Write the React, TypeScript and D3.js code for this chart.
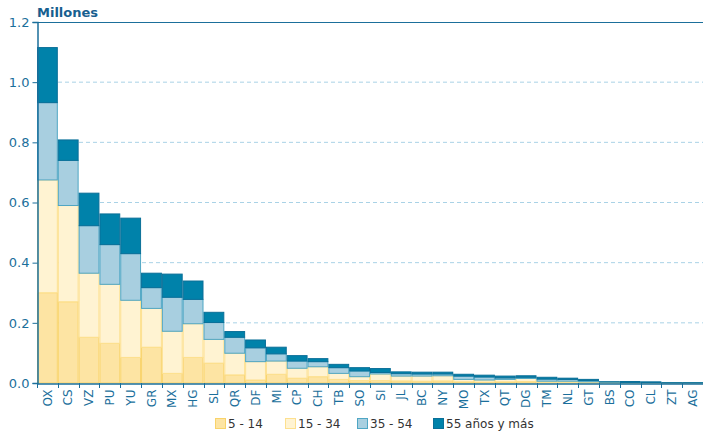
import React, { useEffect, useRef } from 'react';
import * as d3 from 'd3';

const states = ['OX', 'CS', 'VZ', 'PU', 'YU', 'GR', 'MX', 'HG', 'SL', 'QR', 'DF', 'MI', 'CP', 'CH', 'TB', 'SO',
    'SI', 'JL', 'BC', 'NY', 'MO', 'TX', 'QT', 'DG', 'TM', 'NL', 'GT', 'BS', 'CO', 'CL', 'ZT', 'AG'];

const age5to14 = [0.300, 0.270, 0.152, 0.132, 0.085, 0.119, 0.032, 0.085, 0.066, 0.027, 0.010, 0.029, 0.016, 0.021, 0.012, 0.008,
    0.008, 0.007, 0.006, 0.007, 0.004, 0.003, 0.004, 0.005, 0.002, 0.002, 0.001, 0.001, 0.0005, 0.0003, 0.0002, 0.0002];
const age15to34 = [0.375, 0.320, 0.213, 0.196, 0.190, 0.129, 0.140, 0.112, 0.079, 0.072, 0.061, 0.044, 0.033, 0.033, 0.020, 0.013,
    0.022, 0.016, 0.017, 0.017, 0.008, 0.007, 0.008, 0.010, 0.004, 0.004, 0.003, 0.002, 0.0005, 0.0005, 0.0003, 0.0003];
const age35to54 = [0.257, 0.150, 0.158, 0.132, 0.155, 0.069, 0.113, 0.081, 0.056, 0.053, 0.046, 0.024, 0.024, 0.017, 0.019, 0.019,
    0.005, 0.008, 0.007, 0.006, 0.011, 0.010, 0.005, 0.004, 0.007, 0.006, 0.004, 0.0005, 0.001, 0.001, 0.0002, 0.0002];
const age55plus = [0.183, 0.068, 0.108, 0.102, 0.118, 0.048, 0.077, 0.061, 0.034, 0.019, 0.026, 0.022, 0.018, 0.010, 0.011, 0.011,
    0.013, 0.006, 0.006, 0.006, 0.006, 0.006, 0.006, 0.005, 0.006, 0.004, 0.004, 0.0005, 0.003, 0.002, 0.0003, 0.0003];

const seriesNames = ['5 - 14', '15 - 34', '35 - 54', '55 años y más'];
const seriesFill = ['#fde4a3', '#fff3d2', '#a8cfe0', '#0082aa'];
const seriesStroke = ['#f9d36a', '#fde08f', '#4fa6c4', '#0a6f98'];
const yTicks = [0, 0.2, 0.4, 0.6, 0.8, 1.0, 1.2];

export default function App() {
    const ref = useRef<SVGSVGElement>(null);

    useEffect(() => {
        const width = 703;
        const height = 432;
        const margin = { top: 22, right: 0, bottom: 49, left: 37 };
        const axisColor = '#1b6f9b';
        const font = '"DejaVu Sans", Verdana, sans-serif';

        const svg = d3.select(ref.current);
        svg.selectAll('*').remove();
        svg.attr('width', width).attr('height', height)
            .style('font-family', font);

        const x = d3.scaleBand<string>()
            .domain(states)
            .range([margin.left, width - margin.right])
            .padding(0);

        const y = d3.scaleLinear()
            .domain([0, 1.2])
            .range([height - margin.bottom, margin.top]);

        const table = states.map((s, i) => ({
            state: s,
            s0: age5to14[i],
            s1: age15to34[i],
            s2: age35to54[i],
            s3: age55plus[i]
        }));
        const stacked = d3.stack<any>().keys(['s0', 's1', 's2', 's3'])(table);

        // gridlines
        svg.append('g')
            .selectAll('line')
            .data(yTicks.filter(t => t > 0 && t < 1.2))
            .enter().append('line')
            .attr('x1', margin.left)
            .attr('x2', width - margin.right)
            .attr('y1', d => y(d))
            .attr('y2', d => y(d))
            .attr('stroke', '#a9d2e6')
            .attr('stroke-width', 1)
            .attr('stroke-dasharray', '4,3');

        // top border
        svg.append('line')
            .attr('x1', margin.left)
            .attr('x2', width - margin.right)
            .attr('y1', y(1.2) + 0.5)
            .attr('y2', y(1.2) + 0.5)
            .attr('stroke', axisColor)
            .attr('stroke-width', 1);

        // bars
        stacked.forEach((layer, k) => {
            svg.append('g')
                .selectAll('rect')
                .data(layer)
                .enter().append('rect')
                .attr('x', (d: any) => (x(d.data.state) as number) + 0.5)
                .attr('width', x.bandwidth() - 1)
                .attr('y', (d: any) => y(d[1]))
                .attr('height', (d: any) => Math.max(0, y(d[0]) - y(d[1])))
                .attr('fill', seriesFill[k])
                .attr('stroke', seriesStroke[k])
                .attr('stroke-width', 1);
        });

        // y axis
        const yAxis = d3.axisLeft(y)
            .tickValues(yTicks)
            .tickFormat(d3.format('.1f'))
            .tickSize(5)
            .tickPadding(3);
        const gy = svg.append('g')
            .attr('transform', `translate(${margin.left + 0.5},0)`)
            .call(yAxis);
        gy.select('.domain').attr('stroke', axisColor).attr('stroke-width', 1.5);
        gy.selectAll('.tick line').attr('stroke', axisColor);
        gy.selectAll('.tick text')
            .attr('fill', axisColor)
            .style('font-size', '13px')
            .style('font-family', font);

        // x axis
        const xAxis = d3.axisBottom(x).tickSize(0).tickPadding(0);
        const gx = svg.append('g')
            .attr('transform', `translate(0,${y(0) + 0.5})`)
            .call(xAxis);
        gx.select('.domain').attr('stroke', axisColor).attr('stroke-width', 1.5);
        gx.selectAll('.tick text')
            .attr('fill', axisColor)
            .attr('transform', 'rotate(-90)')
            .attr('text-anchor', 'end')
            .attr('x', -6)
            .attr('y', 0)
            .attr('dy', '0.35em')
            .style('font-size', '12px')
            .style('font-family', font);

        // boundary ticks between categories
        svg.append('g')
            .selectAll('line')
            .data(states)
            .enter().append('line')
            .attr('x1', d => Math.round(x(d) as number) + 0.5)
            .attr('x2', d => Math.round(x(d) as number) + 0.5)
            .attr('y1', y(0))
            .attr('y2', y(0) + 5)
            .attr('stroke', axisColor)
            .attr('stroke-width', 1);

        // title
        svg.append('text')
            .attr('x', margin.left)
            .attr('y', 17)
            .attr('fill', '#17608f')
            .style('font-size', '13px')
            .style('font-weight', 'bold')
            .text('Millones');

        // legend
        const legendX = [215, 285, 357, 433];
        const legend = svg.append('g');
        seriesNames.forEach((name, i) => {
            legend.append('rect')
                .attr('x', legendX[i] + 0.5)
                .attr('y', 418.5)
                .attr('width', 10)
                .attr('height', 10)
                .attr('fill', seriesFill[i])
                .attr('stroke', seriesStroke[i]);
            legend.append('text')
                .attr('x', legendX[i] + 13)
                .attr('y', 424)
                .attr('dy', '0.35em')
                .attr('fill', '#333')
                .style('font-size', '12px')
                .text(name);
        });
    }, []);

    return (
        <div style={{ position: 'absolute', left: 0, top: 0 }}>
            <svg ref={ref}></svg>
        </div>
    );
}
